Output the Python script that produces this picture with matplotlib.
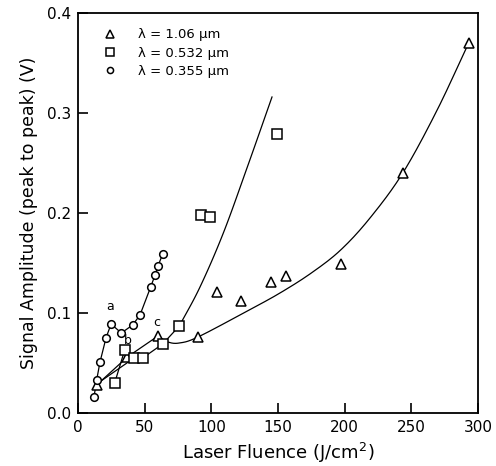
import matplotlib
matplotlib.use("Agg")
import matplotlib.pyplot as plt
import numpy as np

# Data
tri_x = [14, 37, 60, 90, 104, 122, 145, 156, 197, 243.6, 293]
tri_y = [0.028, 0.056, 0.077, 0.076, 0.121, 0.112, 0.131, 0.137, 0.149, 0.240, 0.370]
sq_x = [27.5, 35, 42, 48.5, 63.5, 76, 92, 99, 149]
sq_y = [0.030, 0.063, 0.055, 0.055, 0.069, 0.087, 0.198, 0.196, 0.279]
ci_x = [12, 14, 16.5, 21, 24.8, 32.5, 41, 46.5, 54.5, 57.8, 60, 63.5]
ci_y = [0.016, 0.033, 0.051, 0.075, 0.089, 0.080, 0.088, 0.098, 0.126, 0.138, 0.147, 0.159]

# Drawn trend lines (straight part, then fitted curve)
tri_seg_x = [14, 37, 60]
tri_seg_y = [0.028, 0.056, 0.077]
tri_fit_x = [60, 67.5, 76, 90, 127, 151.5, 175, 197, 219, 243.6, 269, 293]
tri_fit_y = [0.077, 0.071, 0.070, 0.076, 0.102, 0.120, 0.140, 0.163, 0.195, 0.240, 0.302, 0.370]
sq_seg_x = [27.5, 35, 42, 48.5, 63.5, 76]
sq_seg_y = [0.030, 0.063, 0.055, 0.055, 0.069, 0.087]
sq_fit_x = [76, 91.5, 109, 127, 145.5]
sq_fit_y = [0.087, 0.126, 0.180, 0.246, 0.316]
link_x = [14, 41]
link_y = [0.029, 0.054]

labels = ["λ = 1.06 μm", "λ = 0.532 μm", "λ = 0.355 μm"]
notes = ["a", "b", "c"]
note_x = [24, 37.5, 59]
note_y = [0.106, 0.073, 0.091]


def smooth(xs, ys, n=20):
    """Catmull-Rom rendering through the given points (drawing only)."""
    p = np.column_stack([xs, ys]).astype(float)
    p = np.vstack([2 * p[0] - p[1], p, 2 * p[-1] - p[-2]])
    out = []
    t = np.linspace(0, 1, n, endpoint=False)[:, None]
    for i in range(1, len(p) - 2):
        p0, p1, p2, p3 = p[i - 1], p[i], p[i + 1], p[i + 2]
        seg = 0.5 * ((2 * p1) + (-p0 + p2) * t + (2 * p0 - 5 * p1 + 4 * p2 - p3) * t ** 2
                     + (-p0 + 3 * p1 - 3 * p2 + p3) * t ** 3)
        out.append(seg)
    out.append(p[-2][None, :])
    out = np.vstack(out)
    return out[:, 0], out[:, 1]


plt.rcParams['font.family'] = ['DejaVu Sans']
fig = plt.figure(figsize=(4.96, 4.66), dpi=100)
ax = fig.add_axes([78/496, 1-413/466, 400/496, 400/466])

lw = 0.9
ax.plot(tri_seg_x, tri_seg_y, color='black', lw=lw)
ax.plot(*smooth(tri_fit_x, tri_fit_y), color='black', lw=lw)
ax.plot(sq_seg_x, sq_seg_y, color='black', lw=lw)
ax.plot(*smooth(sq_fit_x, sq_fit_y), color='black', lw=lw)
ax.plot(ci_x, ci_y, color='black', lw=lw)
ax.plot(link_x, link_y, color='black', lw=lw)

mk = dict(linestyle='none', mfc='white', mec='black', mew=1.1)
h1, = ax.plot(tri_x, tri_y, marker='^', ms=7, **mk)
h2, = ax.plot(sq_x, sq_y, marker='s', ms=6.5, **mk)
h3, = ax.plot(ci_x, ci_y, marker='o', ms=5.5, **mk)

for t, x, y in zip(notes, note_x, note_y):
    ax.text(x, y, t, fontsize=9, ha='center', va='center')

leg = ax.legend([h1, h2, h3], labels, loc='upper left', frameon=False,
                fontsize=9.5, handlelength=1.0, handletextpad=1.6,
                borderaxespad=0.3, labelspacing=0.4,
                bbox_to_anchor=(0.04, 0.985), markerscale=0.8)

ax.set_xlim(0, 300)
ax.set_ylim(0, 0.4)
ax.set_xticks([0, 50, 100, 150, 200, 250, 300])
ax.set_yticks([0.0, 0.1, 0.2, 0.3, 0.4])
ax.set_yticklabels(["0.0", "0.1", "0.2", "0.3", "0.4"])
ax.tick_params(direction='in', length=7, width=1.2, labelsize=11,
               top=False, right=False, pad=5)
for s in ax.spines.values():
    s.set_linewidth(1.3)
ax.set_xlabel("Laser Fluence (J/cm$^2$)", fontsize=13, labelpad=4)
ax.set_ylabel("Signal Amplitude (peak to peak) (V)", fontsize=12.5, labelpad=6)

fig.savefig("out.png", dpi=100)
